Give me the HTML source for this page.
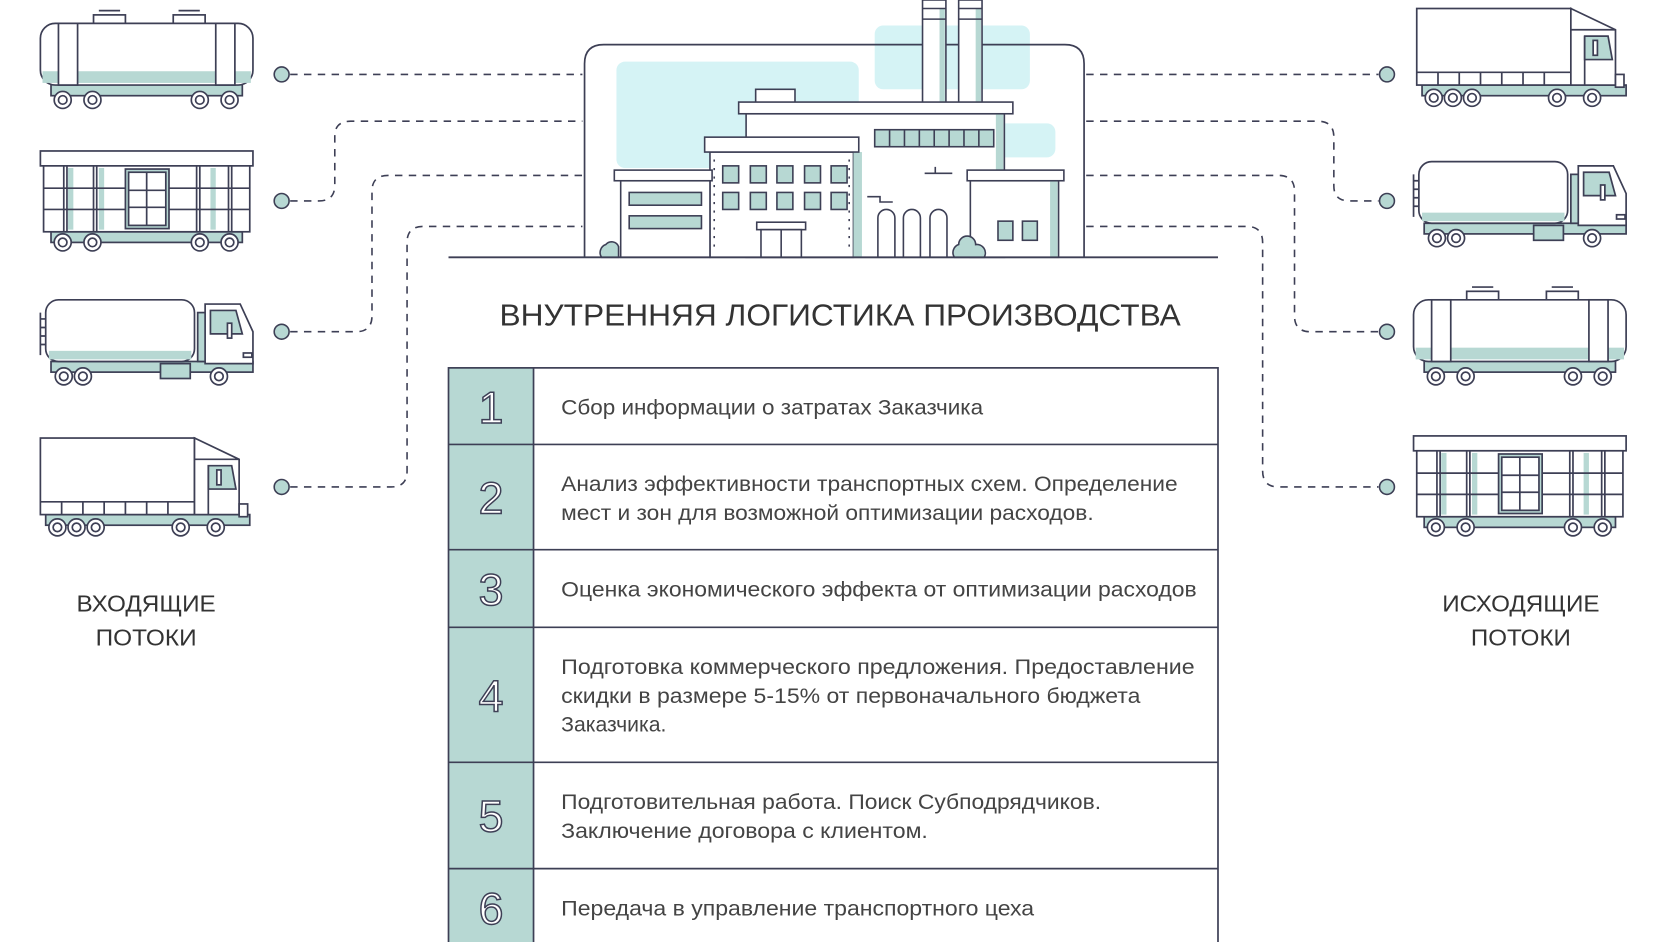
<!DOCTYPE html>
<html><head><meta charset="utf-8"><style>
html,body{margin:0;padding:0;background:#fff;}
svg{display:block;}
text{font-family:"Liberation Sans","DejaVu Sans",sans-serif;}
</style></head><body>
<svg width="1658" height="942" viewBox="0 0 1560 886" preserveAspectRatio="none" xmlns="http://www.w3.org/2000/svg">
<defs>
<g id="tank" stroke="#3d3f55" stroke-width="1.6">
  <rect x="50" y="2" width="30" height="9" fill="#fff"/><rect x="125" y="2" width="30" height="9" fill="#fff"/>
  <line x1="55" y1="-2" x2="75" y2="-2"/><line x1="130" y1="-2" x2="150" y2="-2"/>
  <rect x="10" y="66" width="180" height="12" fill="#b7d8d3"/>
  <rect x="0" y="10" width="200" height="58" rx="14" fill="#fff"/>
  <rect x="2" y="55" width="196" height="11" fill="#b7d8d3" stroke="none"/>
  <rect x="17" y="10" width="18" height="58" fill="#fff"/><rect x="165" y="10" width="18" height="58" fill="#fff"/>
  <g fill="#fff"><circle cx="21" cy="82" r="8"/><circle cx="49" cy="82" r="8"/><circle cx="150" cy="82" r="8"/><circle cx="178" cy="82" r="8"/></g>
  <g fill="none"><circle cx="21" cy="82" r="4"/><circle cx="49" cy="82" r="4"/><circle cx="150" cy="82" r="4"/><circle cx="178" cy="82" r="4"/></g>
</g>
<g id="box" stroke="#3d3f55" stroke-width="1.6">
  <rect x="10" y="76" width="180" height="10" fill="#b7d8d3"/>
  <rect x="0" y="0" width="200" height="14" fill="#fff"/>
  <rect x="3" y="14" width="194" height="62" fill="#fff"/>
  <g fill="#b7d8d3" stroke="none"><rect x="26" y="16" width="5" height="58"/><rect x="55" y="16" width="5" height="58"/><rect x="160" y="16" width="5" height="58"/></g>
  <line x1="3" y1="35" x2="197" y2="35"/><line x1="3" y1="55" x2="197" y2="55"/>
  <line x1="22" y1="14" x2="22" y2="76"/><line x1="25" y1="14" x2="25" y2="76"/><line x1="50" y1="14" x2="50" y2="76"/><line x1="53" y1="14" x2="53" y2="76"/>
  <line x1="147" y1="14" x2="147" y2="76"/><line x1="150" y1="14" x2="150" y2="76"/><line x1="177" y1="14" x2="177" y2="76"/><line x1="180" y1="14" x2="180" y2="76"/>
  <rect x="80" y="17" width="41" height="56" fill="#b7d8d3"/><rect x="83" y="20" width="35" height="50" fill="#fff"/>
  <line x1="100" y1="20" x2="100" y2="70"/><line x1="83" y1="37" x2="118" y2="37"/><line x1="83" y1="53" x2="118" y2="53"/>
  <g fill="#fff"><circle cx="21" cy="86" r="8"/><circle cx="49" cy="86" r="8"/><circle cx="150" cy="86" r="8"/><circle cx="178" cy="86" r="8"/></g>
  <g fill="none"><circle cx="21" cy="86" r="4"/><circle cx="49" cy="86" r="4"/><circle cx="150" cy="86" r="4"/><circle cx="178" cy="86" r="4"/></g>
</g>
<g id="ttruck" stroke="#3d3f55" stroke-width="1.6">
  <rect x="10" y="58" width="190" height="10" fill="#b7d8d3"/>
  <rect x="113" y="60" width="28" height="14" fill="#b7d8d3"/>
  <rect x="5" y="0" width="140" height="58" rx="12" fill="#fff"/>
  <rect x="8" y="48" width="134" height="8" fill="#b7d8d3" stroke="none"/>
  <path d="M0 12v40M0 18h5M0 26h5M0 34h5M0 42h5" fill="none"/>
  <rect x="148" y="12" width="8" height="46" fill="#b7d8d3"/>
  <path d="M155 4h33l12 26v30h-45z" fill="#fff"/>
  <path d="M160 10h24l6 22h-30z" fill="#b7d8d3"/>
  <rect x="176" y="22" width="4" height="14" fill="#fff"/>
  <rect x="191" y="50" width="8" height="4" fill="#fff"/>
  <g fill="#fff"><circle cx="22" cy="72" r="8"/><circle cx="40" cy="72" r="8"/><circle cx="168" cy="72" r="8"/></g>
  <g fill="none"><circle cx="22" cy="72" r="4"/><circle cx="40" cy="72" r="4"/><circle cx="168" cy="72" r="4"/></g>
</g>
<g id="btruck" stroke="#3d3f55" stroke-width="1.6">
  <rect x="5" y="72" width="192" height="10" fill="#b7d8d3"/>
  <rect x="0" y="0" width="145" height="72" fill="#fff"/>
  <line x1="0" y1="60" x2="145" y2="60"/>
  <path d="M20 60v12M40 60v12M60 60v12M80 60v12M100 60v12M120 60v12" fill="none"/>
  <path d="M145 0l42 20v52h-42z" fill="#fff"/>
  <line x1="145" y1="20" x2="187" y2="20"/>
  <path d="M158 26h22l4 22h-26z" fill="#b7d8d3"/>
  <rect x="166" y="30" width="4" height="14" fill="#fff"/>
  <path d="M158 26v46" fill="none"/>
  <rect x="187" y="62" width="8" height="12" fill="#fff"/>
  <g fill="#fff"><circle cx="16" cy="84" r="8"/><circle cx="34" cy="84" r="8"/><circle cx="52" cy="84" r="8"/><circle cx="132" cy="84" r="8"/><circle cx="165" cy="84" r="8"/></g>
  <g fill="none"><circle cx="16" cy="84" r="4"/><circle cx="34" cy="84" r="4"/><circle cx="52" cy="84" r="4"/><circle cx="132" cy="84" r="4"/><circle cx="165" cy="84" r="4"/></g>
</g>
</defs>

<!-- factory backgrounds -->
<rect x="580" y="58" width="228" height="100" rx="8" fill="#d5f3f5"/>
<rect x="823" y="24" width="146" height="60" rx="8" fill="#d5f3f5"/>
<rect x="935" y="116" width="58" height="32" rx="8" fill="#d5f3f5"/>

<!-- dashed connectors -->
<g fill="none" stroke="#3d3f55" stroke-width="1.5" stroke-dasharray="7 6">
  <path d="M273 70H548"/>
  <path d="M273 189H300Q315 189 315 174V128Q315 114 330 114H548"/>
  <path d="M273 312H335Q350 312 350 297V180Q350 165 365 165H548"/>
  <path d="M273 458H368Q383 458 383 443V228Q383 213 398 213H548"/>
  <path d="M1022 70H1297"/>
  <path d="M1022 114H1240Q1255 114 1255 129V175Q1255 189 1270 189H1297"/>
  <path d="M1022 165H1203Q1218 165 1218 180V297Q1218 312 1233 312H1297"/>
  <path d="M1022 213H1173Q1188 213 1188 228V443Q1188 458 1203 458H1297"/>
</g>
<g fill="#b7d8d3" stroke="#3d3f55" stroke-width="1.5">
  <circle cx="265" cy="70" r="7"/><circle cx="265" cy="189" r="7"/><circle cx="265" cy="312" r="7"/><circle cx="265" cy="458" r="7"/>
  <circle cx="1305" cy="70" r="7"/><circle cx="1305" cy="189" r="7"/><circle cx="1305" cy="312" r="7"/><circle cx="1305" cy="458" r="7"/>
</g>
<g fill="#fff"><circle cx="265" cy="70" r="3.5" fill="none"/></g>

<!-- frame -->
<path d="M550 242V60Q550 42 568 42H1002Q1020 42 1020 60V242" fill="none" stroke="#3d3f55" stroke-width="1.6"/>

<!-- factory -->
<g stroke="#3d3f55" stroke-width="1.5">
  <rect x="868" y="0" width="22" height="98" fill="#fff"/><rect x="902" y="0" width="22" height="98" fill="#fff"/>
  <rect x="884" y="8" width="5" height="90" fill="#b7d8d3" stroke="none"/><rect x="918" y="8" width="5" height="90" fill="#b7d8d3" stroke="none"/>
  <path d="M868 8h22M868 18h22M902 8h22M902 18h22" fill="none"/>
  <rect x="711" y="84" width="37" height="13" fill="#fff"/>
  <rect x="702" y="107" width="243" height="135" fill="#fff"/>
  <rect x="937" y="107" width="7" height="135" fill="#b7d8d3" stroke="none"/>
  <rect x="695" y="96" width="258" height="11" fill="#fff"/>
  <rect x="823" y="122" width="112" height="16" fill="#b7d8d3"/>
  <path d="M837 122v16M851 122v16M865 122v16M879 122v16M893 122v16M907 122v16M921 122v16" fill="none"/>
  <rect x="668" y="143" width="135" height="99" fill="#fff"/>
  <rect x="803" y="143" width="8" height="99" fill="#b7d8d3" stroke="none"/>
  <rect x="663" y="129" width="145" height="14" fill="#fff"/>
  <g fill="#b7d8d3">
   <rect x="680" y="156" width="15" height="16"/><rect x="706" y="156" width="15" height="16"/><rect x="731" y="156" width="15" height="16"/><rect x="757" y="156" width="15" height="16"/><rect x="782" y="156" width="15" height="16"/>
   <rect x="680" y="181" width="15" height="16"/><rect x="706" y="181" width="15" height="16"/><rect x="731" y="181" width="15" height="16"/><rect x="757" y="181" width="15" height="16"/><rect x="782" y="181" width="15" height="16"/>
  </g>
  <path d="M672 150v88M799 150v88" fill="none" stroke-dasharray="2 6"/>
  <rect x="712" y="209" width="46" height="7" fill="#fff"/>
  <rect x="716" y="216" width="38" height="26" fill="#fff"/><line x1="735" y1="216" x2="735" y2="242"/>
  <rect x="584" y="170" width="84" height="72" fill="#fff"/>
  <rect x="578" y="160" width="92" height="10" fill="#fff"/>
  <rect x="592" y="181" width="68" height="12" fill="#b7d8d3"/><rect x="592" y="203" width="68" height="12" fill="#b7d8d3"/>
  <rect x="913" y="170" width="83" height="72" fill="#fff"/>
  <rect x="988" y="170" width="7" height="72" fill="#b7d8d3" stroke="none"/>
  <rect x="910" y="160" width="91" height="10" fill="#fff"/>
  <rect x="939" y="208" width="14" height="18" fill="#b7d8d3"/><rect x="962" y="208" width="14" height="18" fill="#b7d8d3"/>
  <path d="M826 242v-37a8 8 0 0 1 16 0v37M850 242v-37a8 8 0 0 1 16 0v37M875 242v-37a8 8 0 0 1 16 0v37" fill="#fff"/>
  <path d="M870 163h26M880 157v6M816 185h12v5h12" fill="none"/>
  <path d="M566 242a8 8 0 0 1 4-12a7 7 0 0 1 12 2v10z" fill="#b7d8d3"/>
  <path d="M898 242a8 8 0 0 1 4-12a8 8 0 0 1 16 0a8 8 0 0 1 8 12z" fill="#b7d8d3"/>
</g>
<line x1="422" y1="242" x2="1146" y2="242" stroke="#3d3f55" stroke-width="1.8"/>

<!-- title -->
<text x="470" y="306" font-size="29" fill="#333" textLength="641" lengthAdjust="spacingAndGlyphs">ВНУТРЕННЯЯ ЛОГИСТИКА ПРОИЗВОДСТВА</text>

<!-- table -->
<rect x="422" y="346" width="80" height="544" fill="#b7d8d3"/>
<g stroke="#3d3f55" stroke-width="1.6" fill="none">
  <rect x="422" y="346" width="724" height="544"/>
  <line x1="502" y1="346" x2="502" y2="890"/>
  <line x1="422" y1="418" x2="1146" y2="418"/><line x1="422" y1="517" x2="1146" y2="517"/>
  <line x1="422" y1="590" x2="1146" y2="590"/><line x1="422" y1="717" x2="1146" y2="717"/>
  <line x1="422" y1="817" x2="1146" y2="817"/>
</g>
<g font-size="42" fill="#fff" stroke="#3d3f55" stroke-width="1.4" text-anchor="middle">
  <text x="462" y="398">1</text><text x="462" y="483">2</text><text x="462" y="569">3</text>
  <text x="462" y="669">4</text><text x="462" y="782">5</text><text x="462" y="869">6</text>
</g>
<g font-size="20" fill="#444">
  <text x="528" y="390" textLength="397" lengthAdjust="spacingAndGlyphs">Сбор информации о затратах Заказчика</text>
  <text x="528" y="462" textLength="580" lengthAdjust="spacingAndGlyphs">Анализ эффективности транспортных схем. Определение</text>
  <text x="528" y="489" textLength="501" lengthAdjust="spacingAndGlyphs">мест и зон для возможной оптимизации расходов.</text>
  <text x="528" y="561" textLength="598" lengthAdjust="spacingAndGlyphs">Оценка экономического эффекта от оптимизации расходов</text>
  <text x="528" y="634" textLength="596" lengthAdjust="spacingAndGlyphs">Подготовка коммерческого предложения. Предоставление</text>
  <text x="528" y="661" textLength="545" lengthAdjust="spacingAndGlyphs">скидки в размере 5-15% от первоначального бюджета</text>
  <text x="528" y="688" textLength="99" lengthAdjust="spacingAndGlyphs">Заказчика.</text>
  <text x="528" y="761" textLength="508" lengthAdjust="spacingAndGlyphs">Подготовительная работа. Поиск Субподрядчиков.</text>
  <text x="528" y="788" textLength="345" lengthAdjust="spacingAndGlyphs">Заключение договора с клиентом.</text>
  <text x="528" y="861" textLength="445" lengthAdjust="spacingAndGlyphs">Передача в управление транспортного цеха</text>
</g>

<!-- labels -->
<g font-size="22" fill="#333">
  <text x="72" y="575" textLength="131" lengthAdjust="spacingAndGlyphs">ВХОДЯЩИЕ</text>
  <text x="90" y="607" textLength="95" lengthAdjust="spacingAndGlyphs">ПОТОКИ</text>
  <text x="1357" y="575" textLength="148" lengthAdjust="spacingAndGlyphs">ИСХОДЯЩИЕ</text>
  <text x="1384" y="607" textLength="94" lengthAdjust="spacingAndGlyphs">ПОТОКИ</text>
</g>

<!-- vehicles -->
<use href="#tank" x="38" y="12"/>
<use href="#box" x="38" y="142"/>
<use href="#ttruck" x="38" y="282"/>
<use href="#btruck" x="38" y="412"/>
<use href="#btruck" x="1333" y="8"/>
<use href="#ttruck" x="1330" y="152"/>
<use href="#tank" x="1330" y="272"/>
<use href="#box" x="1330" y="410"/>
</svg>
</body></html>
